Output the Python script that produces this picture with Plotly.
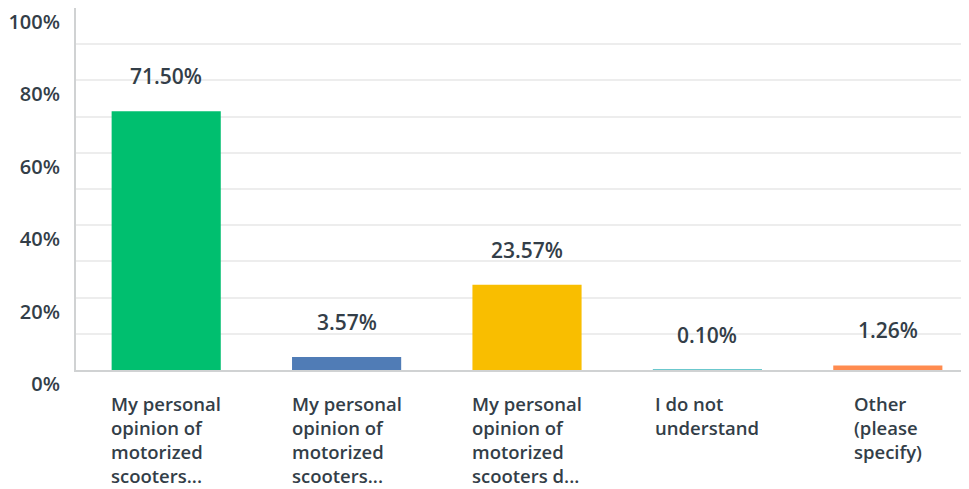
import plotly.graph_objects as go

categories = [
    "My personal<br>opinion of<br>motorized<br>scooters...",
    "My personal<br>opinion of<br>motorized<br>scooters...",
    "My personal<br>opinion of<br>motorized<br>scooters d...",
    "I do not<br>understand",
    "Other<br>(please<br>specify)",
]
values = [71.50, 3.57, 23.57, 0.10, 1.26]
value_labels = ["71.50%", "3.57%", "23.57%", "0.10%", "1.26%"]
colors = ["#00bf6f", "#507cb6", "#f9be00", "#6bc8cd", "#ff8b4f"]
y_tickvals = [0, 20, 40, 60, 80, 100]
y_ticktext = ["0%", "20%", "40%", "60%", "80%", "100%"]
y_minor = [10, 20, 30, 40, 50, 60, 70, 80, 90]

TXT = "#333e48"
FONT = "Open Sans"

xs = list(range(len(values)))

fig = go.Figure()
fig.add_trace(go.Bar(
    x=xs, y=values, marker=dict(color=colors, line=dict(width=0)),
    width=0.605, hoverinfo="skip",
))

annotations = []
for i, (v, t) in enumerate(zip(values, value_labels)):
    annotations.append(dict(
        x=i, y=v, xref="x", yref="y", text=t, showarrow=False,
        yanchor="middle", yshift=35,
        font=dict(family=FONT, size=21, color=TXT, weight=600),
    ))
for i, c in enumerate(categories):
    annotations.append(dict(
        x=i, y=0, xref="x", yref="paper", text=c, showarrow=False,
        yanchor="top", yshift=-19, align="left", xanchor="center",
        font=dict(family=FONT, size=18.5, color=TXT, weight=600),
    ))

# page body has an 8px margin, so the figure is sized to fit 969x489 with it
fig.update_layout(
    width=961, height=481,
    margin=dict(l=68, r=0, t=0, b=119, autoexpand=False),
    paper_bgcolor="white", plot_bgcolor="white",
    showlegend=False,
    annotations=annotations,
    xaxis=dict(
        range=[-0.5, 4.45], showticklabels=False, showgrid=False,
        zeroline=False, showline=True, linecolor="#d0d2d3", linewidth=2,
        fixedrange=True, automargin=False,
    ),
    yaxis=dict(
        range=[0, 100], tickvals=y_tickvals, ticktext=y_ticktext,
        showgrid=False, zeroline=False,
        showline=True, linecolor="#d0d2d3", linewidth=2,
        ticks="", ticklabelposition="outside bottom", ticklabelstandoff=10,
        tickfont=dict(family=FONT, size=20, color=TXT, weight=600),
        minor=dict(tickvals=y_minor, showgrid=True, gridcolor="#ededed", gridwidth=2),
        fixedrange=True, automargin=False,
    ),
)

fig.write_html("out.html")
